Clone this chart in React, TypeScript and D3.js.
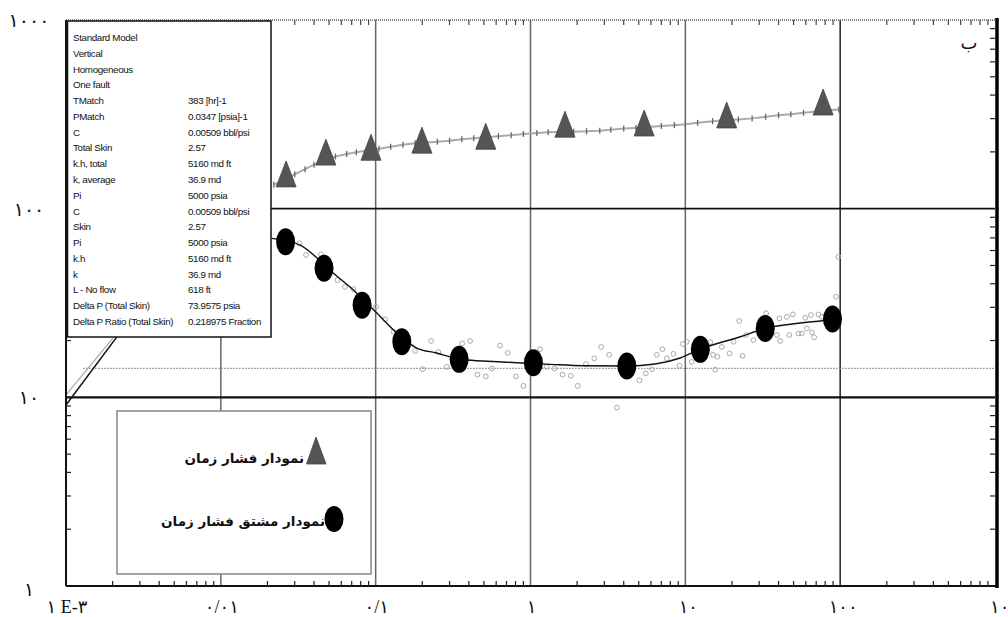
import React from "react";
import * as d3 from "d3";

const W = 1008;
const H = 617;

// Pressure (triangle markers)
const pressureMarkerT = [0.0264, 0.0477, 0.0933, 0.199, 0.514, 1.67, 5.42, 18.5, 77.6];
const pressureMarkerP = [151, 197, 209, 228, 239, 277, 281, 310, 363];

// Pressure data points (small gray tick markers along line)
const pressureT = [0.022, 0.026, 0.03, 0.035, 0.04, 0.047, 0.055, 0.065, 0.075, 0.09, 0.105, 0.125, 0.15, 0.18, 0.21, 0.25, 0.3, 0.36, 0.43, 0.52, 0.62, 0.75, 0.9, 1.1, 1.3, 1.6, 1.9, 2.3, 2.8, 3.3, 4.0, 4.8, 5.8, 7.0, 8.5, 10, 12, 15, 18, 22, 27, 33, 40, 48, 58, 70, 85, 98];
const pressureP = [134, 143, 152, 162, 171, 180, 189, 195, 199, 204, 208, 213, 218, 222, 224, 226, 229, 233, 236, 239, 242, 245, 249, 252, 254, 256, 256, 257, 259, 262, 266, 268, 271, 274, 277, 280, 285, 291, 294, 297, 301, 307, 313, 317, 322, 327, 332, 335];

// Derivative (big black circle markers)
const derivMarkerT = [0.0262, 0.0464, 0.0817, 0.1475, 0.346, 1.044, 4.19, 12.5, 32.8, 89.2];
const derivMarkerP = [66.8, 48.3, 30.8, 19.7, 15.9, 15.25, 14.65, 17.96, 23.2, 26.0];

// Derivative model curve
const derivModelT = [0.0213, 0.0325, 0.0531, 0.0683, 0.1017, 0.1369, 0.1843, 0.248, 0.3458, 0.494, 0.8156, 1.339, 2.187, 4.19, 6.38, 9.26, 12.46, 22.6, 32.8, 55.2, 89.2, 100];
const derivModelP = [69.6, 64.1, 45.6, 38.4, 27.97, 21.9, 18.25, 17.17, 15.96, 15.57, 15.26, 14.96, 14.71, 14.65, 15.02, 16.16, 17.97, 20.95, 23.21, 24.76, 26.0, 26.65];

// Derivative data (small gray hollow circles)
const derivScatterT = [0.0321, 0.0355, 0.0444, 0.0566, 0.0634, 0.0718, 0.1006, 0.115, 0.13, 0.1797, 0.2015, 0.228, 0.254, 0.288, 0.362, 0.407, 0.454, 0.514, 0.562, 0.636, 0.713, 0.804, 0.9, 1.153, 1.27, 1.43, 1.61, 1.82, 2.02, 2.28, 2.58, 2.86, 3.22, 3.61, 5.05, 5.56, 6.08, 6.54, 7.11, 7.6, 8.38, 9.16, 9.64, 10.2, 11.0, 14.5, 15.1, 15.6, 16.1, 17.2, 19.3, 20.5, 22.3, 23.4, 24.7, 27.5, 33.3, 39.0, 41.0, 40.5, 45.3, 47.0, 49.5, 53.8, 56.6, 59.4, 60.9, 64.7, 65.7, 67.9, 72.4, 76.2, 94.2, 97.5];
const derivScatterP = [65.5, 56.8, 57.3, 41.8, 38.5, 37.5, 30.2, 25.9, 22.3, 17.6, 14.1, 19.9, 17.4, 14.5, 19.3, 19.9, 13.2, 12.9, 14.2, 18.8, 17.2, 12.9, 11.5, 18.0, 14.5, 14.2, 13.2, 13.0, 11.5, 15.0, 16.1, 18.5, 16.8, 8.81, 12.3, 13.4, 14.1, 16.8, 18.0, 16.1, 17.0, 14.7, 19.2, 19.7, 15.4, 19.6, 16.8, 14.0, 16.4, 18.5, 17.1, 19.7, 25.4, 16.6, 21.4, 20.1, 27.9, 21.4, 19.9, 26.2, 26.7, 21.4, 27.5, 21.8, 21.8, 26.4, 23.2, 27.3, 22.1, 20.8, 27.5, 26.7, 34.1, 55.6];

// Radial flow level (dotted)
const radialLevelT = [0.00129, 1000];
const radialLevelP = [14.25, 14.25];

// Early time unit-slope lines
const earlyBlackT = [0.001, 0.00212];
const earlyBlackP = [9.1, 20.8];
const earlyGrayT = [0.001, 0.00201];
const earlyGrayP = [10.3, 20.6];

const xTicks = [0.001, 0.01, 0.1, 1, 10, 100, 1000];
const xTickLabels = ["۱ E-۳", "۰/۰۱", "۰/۱", "۱", "۱۰", "۱۰۰", "۱۰۰۰"];
const yTicks = [1, 10, 100, 1000];
const yTickLabels = ["۱", "۱۰", "۱۰۰", "۱۰۰۰"];

const infoLabels = ["Standard Model", "Vertical", "Homogeneous", "One fault", "TMatch", "PMatch", "C", "Total Skin", "k.h, total", "k, average", "Pi", "C", "Skin", "Pi", "k.h", "k", "L - No flow", "Delta P (Total Skin)", "Delta P Ratio (Total Skin)"];
const infoValues = ["", "", "", "", "383 [hr]-1", "0.0347 [psia]-1", "0.00509 bbl/psi", "2.57", "5160 md ft", "36.9 md", "5000 psia", "0.00509 bbl/psi", "2.57", "5000 psia", "5160 md ft", "36.9 md", "618 ft", "73.9575 psia", "0.218975 Fraction"];

const legendLabels = ["نمودار فشار زمان", "نمودار مشتق فشار زمان"];
const panelLabel = "ب";

export default function App() {
  const x = d3.scaleLog().domain([1e-3, 1e3]).range([66, 995]);
  const y = d3.scaleLog().domain([1, 1000]).range([586, 20]);

  const line = d3
    .line<[number, number]>()
    .x((d) => x(d[0]))
    .y((d) => y(d[1]));
  const curve = d3
    .line<[number, number]>()
    .x((d) => x(d[0]))
    .y((d) => y(d[1]))
    .curve(d3.curveMonotoneX);

  const zip = (a: number[], b: number[]) => a.map((v, i) => [v, b[i]] as [number, number]);

  const xMinor: number[] = [];
  for (let e = -3; e < 3; e++) for (let k = 2; k <= 9; k++) xMinor.push(k * Math.pow(10, e));
  const yMinor: number[] = [];
  for (let e = 0; e < 3; e++) for (let k = 2; k <= 9; k++) yMinor.push(k * Math.pow(10, e));

  const left = x(1e-3);
  const right = x(1e3);
  const top = y(1000);
  const bottom = y(1);

  const labelFont = "'Liberation Serif', 'DejaVu Sans', serif";

  return (
    <svg
      width={W}
      height={H}
      style={{ position: "absolute", left: 0, top: 0, background: "#fff" }}
      xmlns="http://www.w3.org/2000/svg"
    >
      <rect x={0} y={0} width={W} height={H} fill="#fff" />

      {/* vertical grid */}
      {xTicks.slice(1, -1).map((t, i) => (
        <line key={"vg" + i} x1={x(t)} x2={x(t)} y1={top} y2={bottom} stroke={t === 100 ? "#222" : "#666"} strokeWidth={1.5} />
      ))}
      {/* horizontal grid */}
      {yTicks.slice(1, -1).map((t, i) => (
        <line key={"hg" + i} x1={left} x2={right} y1={y(t)} y2={y(t)} stroke="#111" strokeWidth={t === 10 ? 2.2 : 1.6} />
      ))}

      {/* radial flow dotted line */}
      <path d={line(zip(radialLevelT, radialLevelP)) || ""} fill="none" stroke="#888" strokeWidth={1.3} strokeDasharray="1.5,1.5" />

      {/* early lines */}
      <path d={line(zip(earlyGrayT, earlyGrayP)) || ""} fill="none" stroke="#aaa" strokeWidth={1.3} />
      <path d={line(zip(earlyBlackT, earlyBlackP)) || ""} fill="none" stroke="#111" strokeWidth={1.5} />

      {/* pressure line and data ticks */}
      <path d={line(zip(pressureT, pressureP)) || ""} fill="none" stroke="#aaa" strokeWidth={2} />
      {pressureT.map((t, i) => (
        <line key={"pt" + i} x1={x(t)} x2={x(t)} y1={y(pressureP[i]) - 3} y2={y(pressureP[i]) + 3} stroke="#666" strokeWidth={1.3} />
      ))}

      {/* derivative scatter */}
      {derivScatterT.map((t, i) => (
        <circle key={"ds" + i} cx={x(t)} cy={y(derivScatterP[i])} r={2.4} fill="none" stroke="#aaa" strokeWidth={1} />
      ))}

      {/* derivative model curve */}
      <path d={curve(zip(derivModelT, derivModelP)) || ""} fill="none" stroke="#111" strokeWidth={1.4} />

      {/* derivative markers */}
      {derivMarkerT.map((t, i) => (
        <ellipse key={"dm" + i} cx={x(t)} cy={y(derivMarkerP[i])} rx={9.5} ry={13.5} fill="#000" />
      ))}

      {/* pressure markers */}
      {pressureMarkerT.map((t, i) => {
        const cx = x(t);
        const cy = y(pressureMarkerP[i]);
        return (
          <path key={"pm" + i} d={`M${cx},${cy - 14}L${cx + 10},${cy + 12}L${cx - 10},${cy + 12}Z`} fill="#555" stroke="#444" strokeWidth={0.8} />
        );
      })}

      {/* axes frame */}
      <line x1={left} x2={right} y1={top} y2={top} stroke="#555" strokeWidth={1.5} strokeDasharray="1,1" />
      <line x1={left} x2={right + 2} y1={bottom} y2={bottom} stroke="#111" strokeWidth={1.8} />
      <line x1={left} x2={left} y1={top} y2={bottom} stroke="#111" strokeWidth={2} />
      <line x1={right + 2} x2={right + 2} y1={top - 2} y2={bottom + 2} stroke="#000" strokeWidth={3.5} />

      {/* minor ticks */}
      {xMinor.map((t, i) => (
        <g key={"xm" + i}>
          <line x1={x(t)} x2={x(t)} y1={bottom} y2={bottom - 5} stroke="#222" strokeWidth={1.2} />
          <line x1={x(t)} x2={x(t)} y1={top} y2={top + 5} stroke="#444" strokeWidth={1.2} />
        </g>
      ))}
      {yMinor.map((t, i) => (
        <g key={"ym" + i}>
          <line x1={left} x2={left + 5} y1={y(t)} y2={y(t)} stroke="#222" strokeWidth={1.2} />
          <line x1={right} x2={right - 5} y1={y(t)} y2={y(t)} stroke="#222" strokeWidth={1.2} />
        </g>
      ))}

      {/* info box */}
      <rect x={66.5} y={21} width={204.5} height={316} fill="#fff" stroke="#111" strokeWidth={1.5} />
      <line x1={67} x2={67} y1={21} y2={337} stroke="#111" strokeWidth={2.5} />
      {infoLabels.map((lab, i) => (
        <g key={"info" + i} fontFamily="'Liberation Sans', Arial, sans-serif" fontSize={9.8} fill="#111" letterSpacing={-0.35}>
          <text x={73} y={41 + i * 15.78}>{lab}</text>
          {infoValues[i] ? <text x={188} y={41 + i * 15.78}>{infoValues[i]}</text> : null}
        </g>
      ))}

      {/* legend box */}
      <rect x={117} y={411} width={254} height={163} fill="#fff" stroke="#888" strokeWidth={1.5} />
      <path d="M316,437L326,464L306.5,464Z" fill="#555" stroke="#444" strokeWidth={0.8} />
      <text x={304} y={463} textAnchor="end" fontFamily="'DejaVu Sans', sans-serif" fontWeight="bold" fontSize={13.5} fill="#111">
        {legendLabels[0]}
      </text>
      <ellipse cx={334} cy={519} rx={9.5} ry={13} fill="#000" />
      <text x={325} y={526} textAnchor="end" fontFamily="'DejaVu Sans', sans-serif" fontWeight="bold" fontSize={13.5} fill="#111">
        {legendLabels[1]}
      </text>

      {/* panel label */}
      <text x={969} y={49} textAnchor="middle" fontFamily="'DejaVu Sans', sans-serif" fontSize={18} fill="#111">
        {panelLabel}
      </text>

      {/* y labels */}
      {yTicks.map((t, i) => (
        <text key={"yl" + i} x={29} y={y(t) + (t === 1 ? 10 : 7)} textAnchor="middle" fontFamily={labelFont} fontSize={19} fill="#111">
          {yTickLabels[i]}
        </text>
      ))}

      {/* x labels */}
      {xTicks.map((t, i) => (
        <text
          key={"xl" + i}
          x={i === xTicks.length - 1 ? x(t) - 5 : x(t) + (i >= 4 ? 3 : 1)}
          y={613}
          textAnchor={i === xTicks.length - 1 ? "start" : "middle"}
          fontFamily={labelFont}
          fontSize={18}
          fill="#111"
        >
          {xTickLabels[i]}
        </text>
      ))}
    </svg>
  );
}
